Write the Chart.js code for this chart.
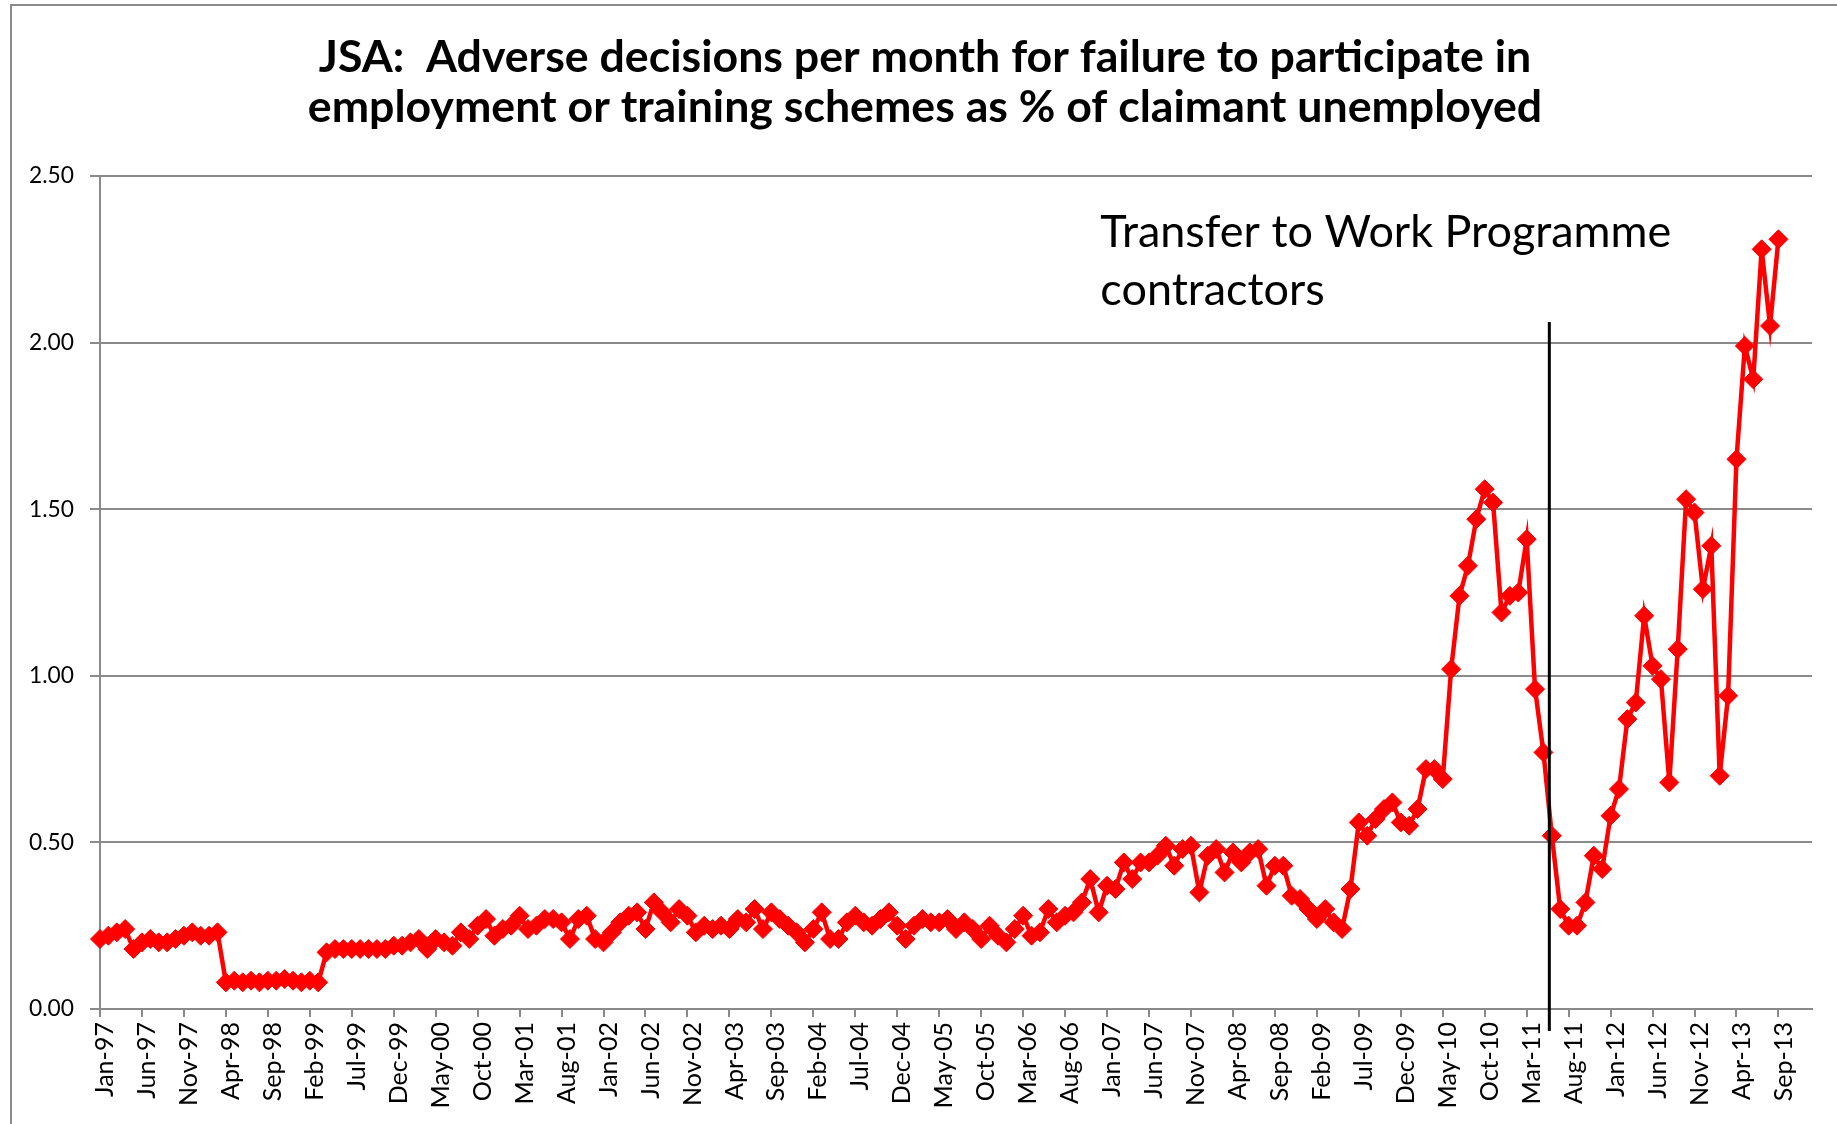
<!DOCTYPE html>
<html>
<head>
<meta charset="utf-8">
<script src="https://cdn.jsdelivr.net/npm/chart.js@4.4.1/dist/chart.umd.min.js"></script>
<style>
  html, body { margin: 0; padding: 0; background: #ffffff; }
  canvas { display: block; }
</style>
</head>
<body>
<canvas id="chart" width="1837" height="1124"></canvas>
<script>
// ---------------- DATA ----------------
const MONTHS = ['Jan','Feb','Mar','Apr','May','Jun','Jul','Aug','Sep','Oct','Nov','Dec'];
const FIRST_YEAR = 1997;
const CATEGORY_COUNT = 205; // Jan-97 .. Jan-14 (axis runs a little past the last value)
const categories = [];
for (let i = 0; i < CATEGORY_COUNT; i++) {
  const yr = FIRST_YEAR + Math.floor(i / 12);
  categories.push(MONTHS[i % 12] + '-' + String(yr % 100).padStart(2, '0'));
}
const LABEL_EVERY = 5;

const rate1997 = [0.21, 0.22, 0.23, 0.24, 0.18, 0.20, 0.21, 0.20, 0.20, 0.21, 0.22, 0.23];
const rate1998 = [0.22, 0.22, 0.23, 0.08, 0.085, 0.08, 0.085, 0.08, 0.085, 0.085, 0.09, 0.085];
const rate1999 = [0.08, 0.085, 0.08, 0.17, 0.18, 0.18, 0.18, 0.18, 0.18, 0.18, 0.18, 0.19];
const rate2000 = [0.19, 0.20, 0.21, 0.18, 0.21, 0.20, 0.19, 0.23, 0.21, 0.25, 0.27, 0.22];
const rate2001 = [0.24, 0.25, 0.28, 0.24, 0.25, 0.27, 0.27, 0.26, 0.21, 0.27, 0.28, 0.21];
const rate2002 = [0.20, 0.23, 0.26, 0.28, 0.29, 0.24, 0.32, 0.29, 0.26, 0.30, 0.28, 0.23];
const rate2003 = [0.25, 0.24, 0.25, 0.24, 0.27, 0.26, 0.30, 0.24, 0.29, 0.27, 0.25, 0.23];
const rate2004 = [0.20, 0.24, 0.29, 0.21, 0.21, 0.26, 0.28, 0.26, 0.25, 0.27, 0.29, 0.25];
const rate2005 = [0.21, 0.25, 0.27, 0.26, 0.26, 0.27, 0.24, 0.26, 0.24, 0.21, 0.25, 0.22];
const rate2006 = [0.20, 0.24, 0.28, 0.22, 0.23, 0.30, 0.26, 0.28, 0.29, 0.32, 0.39, 0.29];
const rate2007 = [0.37, 0.36, 0.44, 0.39, 0.44, 0.44, 0.46, 0.49, 0.43, 0.48, 0.49, 0.35];
const rate2008 = [0.46, 0.48, 0.41, 0.47, 0.44, 0.47, 0.48, 0.37, 0.43, 0.43, 0.34, 0.33];
const rate2009 = [0.30, 0.27, 0.30, 0.26, 0.24, 0.36, 0.56, 0.52, 0.57, 0.60, 0.62, 0.56];
const rate2010 = [0.55, 0.60, 0.72, 0.72, 0.69, 1.02, 1.24, 1.33, 1.47, 1.56, 1.52, 1.19];
const rate2011 = [1.24, 1.25, 1.41, 0.96, 0.77, 0.52, 0.30, 0.25, 0.25, 0.32, 0.46, 0.42];
const rate2012 = [0.58, 0.66, 0.87, 0.92, 1.18, 1.03, 0.99, 0.68, 1.08, 1.53, 1.49, 1.26];
const rate2013 = [1.39, 0.70, 0.94, 1.65, 1.99, 1.89, 2.28, 2.05, 2.31, null, null, null];
const rate2014 = [null];

const adverseRate = [].concat(rate1997, rate1998, rate1999, rate2000, rate2001, rate2002,
  rate2003, rate2004, rate2005, rate2006, rate2007, rate2008, rate2009, rate2010,
  rate2011, rate2012, rate2013, rate2014);

const Y_MIN = 0, Y_MAX = 2.5, Y_STEP = 0.5;

const titleLines = [
  'JSA:  Adverse decisions per month for failure to participate in',
  'employment or training schemes as % of claimant unemployed'
];
const annotationLines = ['Transfer to Work Programme', 'contractors'];
// annotation anchors in data units (category index, value)
const annotationAt = { x: 119.2, y1: 2.288, y2: 2.113 };
const transferLine = { x: 172.7, yTop: 2.062, yBottom: -0.066 };

// ---------------- STYLE / LAYOUT ----------------
const FAMILY = 'Lato, "Open Sans", sans-serif';
const GRID = '#8a8a8a';
const RED = '#ff0000';

function fitSize(text, weight, target) {
  const c = document.createElement('canvas').getContext('2d');
  c.font = weight + ' 100px ' + FAMILY;
  return 100 * target / c.measureText(text).width;
}
function middleToBaseline(size, weight) {
  const c = document.createElement('canvas').getContext('2d');
  c.font = weight + ' ' + size + 'px ' + FAMILY;
  c.textBaseline = 'middle';
  return c.measureText('H').actualBoundingBoxDescent;
}

const titleSize = fitSize(titleLines[0], 'bold', 1213);
const titleLineH = 50;
const titleMid = middleToBaseline(titleSize, 'bold');
const titlePadTop = 71.7 - titleLineH / 2 - titleMid;
const titlePadBottom = 176 - titlePadTop - 2 * titleLineH;

const annotSize = fitSize(annotationLines[0], 'normal', 571);
const xTickSize = fitSize('Jan-97', 'normal', 75);
const yTickSize = fitSize('0.00', 'normal', 45);

const frame = {
  id: 'frame',
  beforeDraw(chart) {
    const ctx = chart.ctx;
    ctx.save();
    ctx.fillStyle = '#ffffff';
    ctx.fillRect(0, 0, chart.width, chart.height);
    ctx.strokeStyle = GRID;
    ctx.lineWidth = 2;
    ctx.beginPath();
    ctx.moveTo(11, chart.height + 2);
    ctx.lineTo(11, 5);
    ctx.lineTo(chart.width + 2, 5);
    ctx.stroke();
    ctx.restore();
  }
};

// centre the title over the framed area (frame edge .. plot right edge)
const titleCentering = {
  id: 'titleCentering',
  afterLayout(chart) {
    if (chart.titleBlock) {
      chart.titleBlock.left = 38;
      chart.titleBlock.right = chart.chartArea.right;
    }
  }
};

const annotation = {
  id: 'annotation',
  afterDatasetsDraw(chart) {
    const ctx = chart.ctx;
    const xs = chart.scales.x, ys = chart.scales.y;
    ctx.save();
    const lx = xs.getPixelForValue(transferLine.x);
    ctx.strokeStyle = '#000000';
    ctx.lineWidth = 3;
    ctx.beginPath();
    ctx.moveTo(lx, ys.getPixelForValue(transferLine.yTop));
    ctx.lineTo(lx, ys.getPixelForValue(transferLine.yBottom));
    ctx.stroke();
    ctx.fillStyle = '#000000';
    ctx.font = annotSize + 'px ' + FAMILY;
    ctx.textAlign = 'left';
    ctx.textBaseline = 'alphabetic';
    const tx = xs.getPixelForValue(annotationAt.x);
    ctx.fillText(annotationLines[0], tx, ys.getPixelForValue(annotationAt.y1));
    ctx.fillText(annotationLines[1], tx, ys.getPixelForValue(annotationAt.y2));
    ctx.restore();
  }
};

new Chart(document.getElementById('chart'), {
  type: 'line',
  data: {
    labels: categories,
    datasets: [{
      data: adverseRate,
      borderColor: RED,
      backgroundColor: RED,
      borderWidth: 4.5,
      tension: 0,
      pointStyle: 'rectRot',
      pointRadius: 9.5,
      pointHoverRadius: 9.5,
      pointBackgroundColor: RED,
      pointBorderColor: RED,
      pointBorderWidth: 1,
      spanGaps: false,
      clip: false
    }]
  },
  options: {
    responsive: false,
    animation: false,
    devicePixelRatio: 1,
    layout: { padding: { left: 0, right: 25, top: 0, bottom: 0 } },
    plugins: {
      legend: { display: false },
      tooltip: { enabled: false },
      title: {
        display: true,
        text: titleLines,
        color: '#000000',
        fullSize: true,
        font: { family: FAMILY, size: titleSize, weight: 'bold', lineHeight: titleLineH / titleSize },
        padding: { top: titlePadTop, bottom: titlePadBottom }
      }
    },
    scales: {
      x: {
        type: 'category',
        offset: false,
        afterFit(scale) {
          scale.height = 115;
          scale.paddingLeft = 0;
          scale.paddingRight = 0;
        },
        grid: {
          display: true,
          drawOnChartArea: false,
          drawTicks: true,
          tickLength: 8,
          lineWidth: 2,
          color: (ctx) => (ctx.index % LABEL_EVERY === 0 ? GRID : 'rgba(0,0,0,0)')
        },
        border: { display: true, color: GRID, width: 2 },
        ticks: {
          autoSkip: false,
          minRotation: 90,
          maxRotation: 90,
          padding: 5,
          labelOffset: 5,
          color: '#000000',
          font: { family: FAMILY, size: xTickSize },
          callback: (v, i) => (i % LABEL_EVERY === 0 ? categories[i] : '')
        }
      },
      y: {
        min: Y_MIN,
        max: Y_MAX,
        afterFit(scale) {
          scale.width = 100;
          scale.paddingTop = 0;
          scale.paddingBottom = 0;
        },
        grid: { color: GRID, lineWidth: 2, tickLength: 10, drawTicks: true },
        border: { display: true, color: GRID, width: 2 },
        ticks: {
          stepSize: Y_STEP,
          padding: 16,
          color: '#000000',
          font: { family: FAMILY, size: yTickSize },
          callback: (v) => Number(v).toFixed(2)
        }
      }
    }
  },
  plugins: [frame, titleCentering, annotation]
});
</script>
</body>
</html>
